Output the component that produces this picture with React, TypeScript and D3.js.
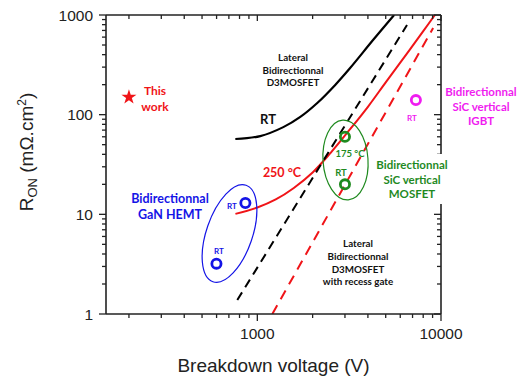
import React from 'react';
import * as d3 from 'd3';

// breakdown voltage (V) vs specific on-resistance (mOhm.cm2)
const rtVolt = [759, 1038, 1385, 1714, 2120, 2655, 3200, 4266, 5556];
const rtRon = [57, 61, 75, 95, 131, 199, 294, 561, 1000];

const hotVolt = [760, 1000, 1260, 1580, 2000, 2500, 3150, 4000, 5000, 6300, 7950, 9550];
const hotRon = [10.1, 11.7, 14.1, 18.4, 26.3, 41.2, 69, 120, 211, 376, 676, 1084];

const limitVolt = [778, 6530];
const limitRon = [1.38, 794];

const recessVolt = [1207, 9060];
const recessRon = [1, 741];

const thisWorkVolt = [200];
const thisWorkRon = [150];

const ganVolt = [861, 599];
const ganRon = [13, 3.2];

const sicVolt = [3000, 3000];
const sicRon = [60, 20];

const igbtVolt = [7300];
const igbtRon = [140];

const xMajor = [1000, 10000];
const yMajor = [1, 10, 100, 1000];

const W = 518;
const H = 390;
const L = 106, R = 441, T = 15, B = 314;

const RED = '#f01418';
const BLUE = '#1414e6';
const GREEN = '#1f8a1f';
const MAGENTA = '#f01cf0';
const LBL = 'Lato, "Open Sans", sans-serif';
const AX = '"Liberation Sans", Arial, sans-serif';

const zip = (a: number[], b: number[]) => a.map((v, i) => [v, b[i]] as [number, number]);

export default function App() {
  const x = d3.scaleLog().domain([150, 10000]).range([L, R]);
  const y = d3.scaleLog().domain([1, 1000]).range([B, T]);

  const line = d3
    .line<[number, number]>()
    .x((d) => x(d[0]))
    .y((d) => y(d[1]))
    .curve(d3.curveCatmullRom);

  const xMinor: number[] = [];
  [100, 1000].forEach((dec) => {
    for (let k = 2; k <= 9; k++) if (dec * k >= 150) xMinor.push(dec * k);
  });
  const yMinor: number[] = [];
  [1, 10, 100].forEach((dec) => {
    for (let k = 2; k <= 9; k++) yMinor.push(dec * k);
  });

  const star = d3.symbol().type(d3.symbolStar).size(70)();

  const ring = (vx: number, vy: number, color: string, key: string) => (
    <circle key={key} cx={x(vx)} cy={y(vy)} r={4.6} fill="none" stroke={color} strokeWidth={2.8} />
  );

  return (
    <svg width={W} height={H} style={{ position: 'absolute', left: 0, top: 0, background: '#fff' }}>
      <defs>
        <clipPath id="plot">
          <rect x={L} y={T} width={R - L} height={B - T} />
        </clipPath>
      </defs>

      <g clipPath="url(#plot)" fill="none">
        <path d={line(zip(rtVolt, rtRon)) || ''} stroke="#000" strokeWidth={2.2} />
        <path d={line(zip(hotVolt, hotRon)) || ''} stroke={RED} strokeWidth={2} />
        <path d={line(zip(limitVolt, limitRon)) || ''} stroke="#000" strokeWidth={2} strokeDasharray="9 6" />
        <path d={line(zip(recessVolt, recessRon)) || ''} stroke={RED} strokeWidth={2} strokeDasharray="10 7" />
      </g>

      {/* device groups */}
      <ellipse cx={229.5} cy={233.5} rx={23} ry={51} transform="rotate(19 229.5 233.5)" fill="none" stroke={BLUE} strokeWidth={1.2} />
      <ellipse cx={345.5} cy={160} rx={22.5} ry={40} transform="rotate(-4 345.5 160)" fill="none" stroke={GREEN} strokeWidth={1.2} />

      {zip(ganVolt, ganRon).map((d, i) => ring(d[0], d[1], BLUE, 'g' + i))}
      {zip(sicVolt, sicRon).map((d, i) => ring(d[0], d[1], GREEN, 's' + i))}
      {zip(igbtVolt, igbtRon).map((d, i) => ring(d[0], d[1], MAGENTA, 'i' + i))}
      {zip(thisWorkVolt, thisWorkRon).map((d, i) => (
        <path key={'t' + i} d={star || ''} transform={`translate(${x(d[0])},${y(d[1])})`} fill={RED} />
      ))}

      {/* axes frame */}
      <g stroke="#222" strokeWidth={1.6} fill="none">
        <line x1={L} x2={R} y1={B} y2={B} />
        <line x1={L} x2={L} y1={T} y2={B} />
        <line x1={L} x2={R} y1={T} y2={T} />
        <line x1={R} x2={R} y1={T} y2={B} />
      </g>
      <g stroke="#222" strokeWidth={1.3}>
        {xMajor.map((v) => (
          <g key={'xM' + v}>
            <line x1={x(v)} x2={x(v)} y1={B} y2={B + 7} />
            <line x1={x(v)} x2={x(v)} y1={T} y2={T + 6} />
          </g>
        ))}
        {xMinor.map((v) => (
          <g key={'xm' + v}>
            <line x1={x(v)} x2={x(v)} y1={B} y2={B + 4} />
            <line x1={x(v)} x2={x(v)} y1={T} y2={T + 4} />
          </g>
        ))}
        {yMajor.map((v) => (
          <g key={'yM' + v}>
            <line x1={L - 7} x2={L} y1={y(v)} y2={y(v)} />
            <line x1={R - 7} x2={R} y1={y(v)} y2={y(v)} />
          </g>
        ))}
        {yMinor.map((v) => (
          <g key={'ym' + v}>
            <line x1={L - 4} x2={L} y1={y(v)} y2={y(v)} />
            <line x1={R - 4} x2={R} y1={y(v)} y2={y(v)} />
          </g>
        ))}
      </g>

      <g fontFamily={AX} fontSize={15.5} fill="#222">
        {xMajor.map((v) => (
          <text key={'xl' + v} x={x(v)} y={B + 25} textAnchor="middle">{v}</text>
        ))}
        {yMajor.map((v) => (
          <text key={'yl' + v} x={L - 13} y={y(v) + 5.5} textAnchor="end">{v}</text>
        ))}
      </g>

      <text x={(L + R) / 2} y={372} textAnchor="middle" fontFamily={AX} fontSize={19} fill="#222">
        Breakdown voltage (V)
      </text>
      <text transform="translate(33,152) rotate(-90)" textAnchor="middle" fontFamily={AX} fontSize={19} fill="#222">
        R<tspan fontSize={13} dy={4}>ON</tspan>
        <tspan dy={-4}> (mΩ.cm</tspan>
        <tspan fontSize={12} dy={-7}>2</tspan>
        <tspan dy={7}>)</tspan>
      </text>

      {/* annotations */}
      <g fontFamily={LBL} fontWeight="bold" textAnchor="middle">
        <g fill={RED} fontSize={12}>
          <text x={155} y={95}>This</text>
          <text x={155} y={111}>work</text>
        </g>

        <g fill="#111" fontSize={9.8}>
          <text x={293} y={61}>Lateral</text>
          <text x={293} y={74}>Bidirectionnal</text>
          <text x={293} y={86}>D3MOSFET</text>
        </g>
        <text x={268} y={124} fill="#111" fontSize={13}>RT</text>

        <text x={282} y={177} fill={RED} fontSize={12.5}>250 °C</text>

        <g fill={BLUE}>
          <text x={170} y={203} fontSize={12.5}>Bidirectionnal</text>
          <text x={170} y={219} fontSize={12.5}>GaN HEMT</text>
          <text x={232} y={209} fontSize={8}>RT</text>
          <text x={219} y={254} fontSize={8}>RT</text>
        </g>

        <g fill={GREEN}>
          <text x={350} y={157} fontSize={9.5}>175 °C</text>
          <text x={341} y={176} fontSize={9.5}>RT</text>
        </g>
        <rect x={374} y={154} width={78} height={50} fill="#fff" />
        <g fill={GREEN} fontSize={11.5}>
          <text x={412} y={169}>Bidirectionnal</text>
          <text x={412} y={184}>SiC vertical</text>
          <text x={412} y={198}>MOSFET</text>
        </g>

        <g fill={MAGENTA} fontSize={11.5}>
          <text x={481} y={96}>Bidirectionnal</text>
          <text x={481} y={111}>SiC vertical</text>
          <text x={481} y={125}>IGBT</text>
        </g>
        <text x={412} y={121} fill={MAGENTA} fontSize={8}>RT</text>

        <g fill="#111" fontSize={9.8}>
          <text x={358} y={247}>Lateral</text>
          <text x={358} y={260}>Bidirectionnal</text>
          <text x={358} y={273}>D3MOSFET</text>
          <text x={358} y={285}>with recess gate</text>
        </g>
      </g>
    </svg>
  );
}
